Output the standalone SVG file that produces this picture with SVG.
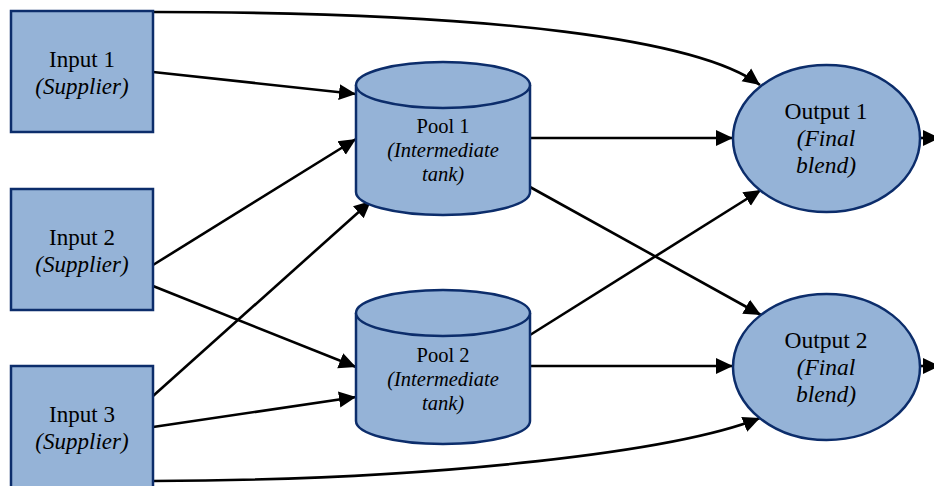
<svg xmlns="http://www.w3.org/2000/svg" width="934" height="486" viewBox="0 0 934 486">
  <defs>
    <style>
      .node { fill: #95b3d7; stroke: #0c2d6b; stroke-width: 2.5; }
      .edge { fill: none; stroke: #000; stroke-width: 2.6; marker-end: url(#arrow); }
      text { font-family: "Liberation Serif", "Times New Roman", serif; fill: #000; text-anchor: middle; }
      .inp { font-size: 23px; }
      .pool { font-size: 20.5px; }
      .out { font-size: 23.5px; }
      .it { font-style: italic; }
    </style>
    <marker id="arrow" markerUnits="userSpaceOnUse" markerWidth="20" markerHeight="18" viewBox="0 -9 20 18" refX="17" refY="0" orient="auto">
      <path d="M0,-8 L17,0 L0,8 Z" fill="#000"/>
    </marker>
  </defs>

  <!-- connectors -->
  <g id="connectors">
    <path class="edge" d="M153,12 C500,12 700,40 760,85"/>
    <path class="edge" d="M153,72 L356,94"/>
    <path class="edge" d="M153,265 L356,139"/>
    <path class="edge" d="M153,286 L356,367"/>
    <path class="edge" d="M153,396 L371,201"/>
    <path class="edge" d="M153,427 L356,397"/>
    <path class="edge" d="M153,481 C450,480 680,450 760,418"/>
    <path class="edge" d="M530,138 L733,138"/>
    <path class="edge" d="M530,187 L761,315"/>
    <path class="edge" d="M530,335 L761,190"/>
    <path class="edge" d="M530,366 L733,366"/>
    <path class="edge" d="M920,138 L940,138"/>
    <path class="edge" d="M920,366 L940,366"/>
  </g>

  <!-- inputs -->
  <g id="input1">
    <rect class="node" x="11" y="11" width="142" height="121"/>
    <text class="inp" x="82" y="67">Input 1</text>
    <text class="inp it" x="82" y="94">(Supplier)</text>
  </g>
  <g id="input2">
    <rect class="node" x="11" y="189" width="142" height="121"/>
    <text class="inp" x="82" y="245">Input 2</text>
    <text class="inp it" x="82" y="272">(Supplier)</text>
  </g>
  <g id="input3">
    <rect class="node" x="11" y="366" width="142" height="140"/>
    <text class="inp" x="82" y="422">Input 3</text>
    <text class="inp it" x="82" y="449">(Supplier)</text>
  </g>

  <!-- pools -->
  <g id="pool1">
    <path class="node" d="M356,85 A87,23 0 0 1 530,85 L530,192 A87,23 0 0 1 356,192 Z"/>
    <path class="node" d="M356,85 A87,23 0 0 0 530,85"/>
    <text class="pool" x="443" y="133">Pool 1</text>
    <text class="pool it" x="443" y="157">(Intermediate</text>
    <text class="pool it" x="443" y="181">tank)</text>
  </g>
  <g id="pool2">
    <path class="node" d="M356,313 A87,23 0 0 1 530,313 L530,421 A87,23 0 0 1 356,421 Z"/>
    <path class="node" d="M356,313 A87,23 0 0 0 530,313"/>
    <text class="pool" x="443" y="362">Pool 2</text>
    <text class="pool it" x="443" y="386">(Intermediate</text>
    <text class="pool it" x="443" y="410">tank)</text>
  </g>

  <!-- outputs -->
  <g id="output1">
    <ellipse class="node" cx="826.5" cy="138.5" rx="93.5" ry="73.5"/>
    <text class="out" x="826" y="119">Output 1</text>
    <text class="out it" x="826" y="146">(Final</text>
    <text class="out it" x="826" y="173">blend)</text>
  </g>
  <g id="output2">
    <ellipse class="node" cx="826.5" cy="367" rx="93.5" ry="73"/>
    <text class="out" x="826" y="348">Output 2</text>
    <text class="out it" x="826" y="375">(Final</text>
    <text class="out it" x="826" y="402">blend)</text>
  </g>
</svg>
